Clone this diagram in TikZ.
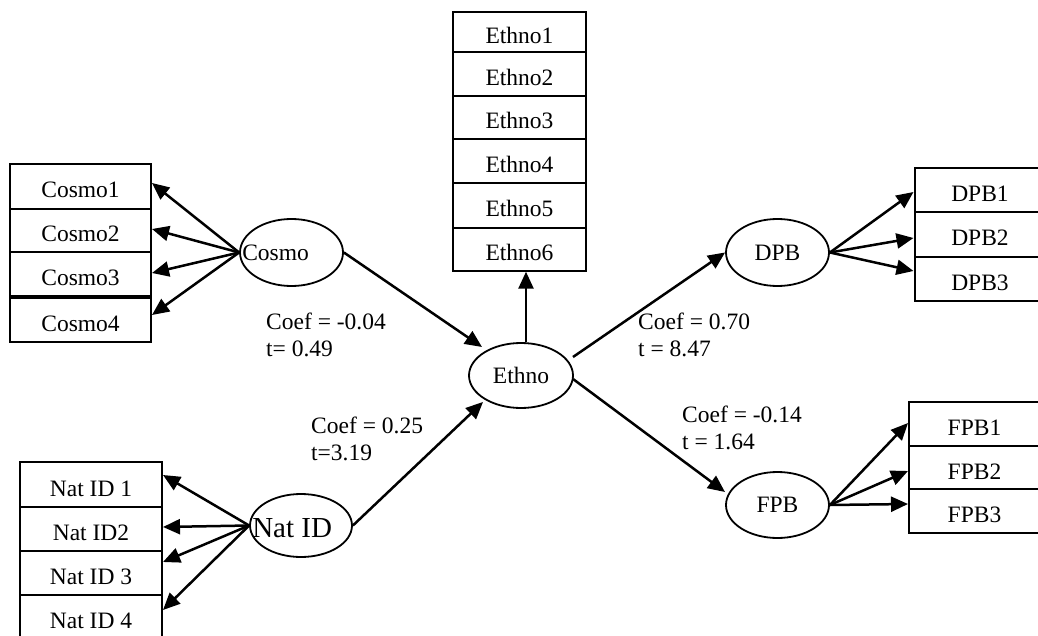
\documentclass[tikz,border=0pt]{standalone}
\usepackage{fontspec}
\setmainfont{Liberation Serif}
\usetikzlibrary{shapes.geometric,arrows.meta,calc}
\begin{document}
\begin{tikzpicture}[x=1pt,y=-1pt,
  font=\fontsize{23.5}{27.5}\selectfont,
  box/.style={draw,line width=2pt,inner sep=0pt,text height=23pt,text depth=0pt},
  cbox/.style={box,minimum width=141pt},
  nbox/.style={box,minimum width=142pt},
  ebox/.style={box,minimum width=133pt},
  rbox/.style={box,minimum width=131pt},
  lat/.style={draw,ellipse,line width=1.8pt,inner sep=0pt,minimum width=103pt,minimum height=66pt},
  arr/.style={line width=2.5pt,-{Triangle[length=17pt,width=15pt]}},
  coef/.style={anchor=north west,align=left,inner sep=0pt}
]
\useasboundingbox (0,0) rectangle (1038,636);
\clip (0,0) rectangle (1038,636);

% Cosmo indicators
\node[cbox,minimum height=45pt] (c1) at (80.5,186.5) {Cosmo1};
\node[cbox,minimum height=43pt] (c2) at (80.5,230.5) {Cosmo2};
\node[cbox,minimum height=44pt] (c3) at (80.5,274) {Cosmo3};
\node[cbox,minimum height=44pt] (c4) at (80.5,320) {Cosmo4};

% Nat ID indicators
\node[nbox,minimum height=45pt] (n1) at (91,484.5) {Nat ID 1};
\node[nbox,minimum height=44pt] (n2) at (91,529) {Nat ID2};
\node[nbox,minimum height=44pt] (n3) at (91,573) {Nat ID 3};
\node[nbox,minimum height=44pt] (n4) at (91,617) {Nat ID 4};

% Ethno indicators
\node[ebox,minimum height=40.5pt] (e1) at (519.5,32) {Ethno1};
\node[ebox,minimum height=43.4pt] (e2) at (519.5,74) {Ethno2};
\node[ebox,minimum height=43.6pt] (e3) at (519.5,117.5) {Ethno3};
\node[ebox,minimum height=44pt] (e4) at (519.5,161.3) {Ethno4};
\node[ebox,minimum height=44.4pt] (e5) at (519.5,205.5) {Ethno5};
\node[ebox,minimum height=43pt] (e6) at (519.5,249.2) {Ethno6};

% DPB indicators
\node[rbox,minimum height=44pt] (d1) at (980,190.3) {DPB1};
\node[rbox,minimum height=44.4pt] (d2) at (980,234.5) {DPB2};
\node[rbox,minimum height=44pt] (d3) at (980,278.7) {DPB3};

% FPB indicators
\node[rbox,minimum height=44pt] (f1) at (974.5,423.7) {FPB1};
\node[rbox,minimum height=43.6pt] (f2) at (974.5,467.5) {FPB2};
\node[rbox,minimum height=44pt] (f3) at (974.5,511.3) {FPB3};

% latent variables
\node[lat,minimum width=103pt,minimum height=67pt,
  label={[anchor=west,inner sep=0pt,xshift=3pt]west:Cosmo}] (cosmo) at (291.5,252.5) {};
\node[lat,minimum width=102pt,minimum height=63pt,
  label={[anchor=west,inner sep=0pt,xshift=3pt,yshift=-3pt,font=\fontsize{29}{34}\selectfont]west:Nat ID}] (natid) at (301,525.5) {};
\node[lat,minimum width=104pt,minimum height=65pt] (ethno) at (521,375.5) {Ethno};
\node[lat,minimum width=103pt,minimum height=67pt] (dpb) at (777.5,252.5) {DPB};
\node[lat,minimum width=103pt,minimum height=66pt] (fpb) at (777.5,505) {FPB};

% loadings
\draw[arr] (cosmo.west) -- ([yshift=3.5pt]c1.east);
\draw[arr] (cosmo.west) -- ([yshift=1.5pt]c2.east);
\draw[arr] (cosmo.west) -- ([yshift=1pt]c3.east);
\draw[arr] (cosmo.west) -- ([yshift=5pt]c4.east);

\draw[arr] (natid.west) -- ([yshift=9.5pt]n1.east);
\draw[arr] (natid.west) -- ([yshift=2pt]n2.east);
\draw[arr] (natid.west) -- ([yshift=11pt]n3.east);
\draw[arr] (natid.west) -- ([yshift=7pt]n4.east);

\draw[arr] (dpb.east) -- ([yshift=-1.7pt]d1.west);
\draw[arr] (dpb.east) -- ([yshift=-3.5pt]d2.west);
\draw[arr] (dpb.east) -- ([yshift=7.7pt]d3.west);

\draw[arr] (fpb.east) -- ([yshift=0.7pt]f1.west);
\draw[arr] (fpb.east) -- ([yshift=-3.5pt]f2.west);
\draw[arr] (fpb.east) -- ([yshift=7.3pt]f3.west);

\coordinate (up) at ([xshift=5pt]ethno.north);
\draw[arr] (up) -- (up |- e6.south);

% structural paths
\draw[arr] (cosmo.east) -- ($(ethno)+(-39,-28.5)$);
\draw[arr] (natid.east) -- ($(ethno)+(-38,26.5)$);
\draw[arr] ($(ethno)+(52,-18.5)$) -- (dpb.west);
\draw[arr] ($(ethno)+(52,3.5)$) -- ($(fpb)+(-52.5,-13)$);

% coefficients
\node[coef] (l1) at (266,312.3) {Coef = -0.04\\t= 0.49};
\node[coef] (l2) at (311,416.3) {Coef = 0.25\\t=3.19};
\node[coef] (l3) at (638,312.3) {Coef = 0.70\\t = 8.47};
\node[coef] (l4) at (682,405.3) {Coef = -0.14\\t = 1.64};
\end{tikzpicture}
\end{document}
